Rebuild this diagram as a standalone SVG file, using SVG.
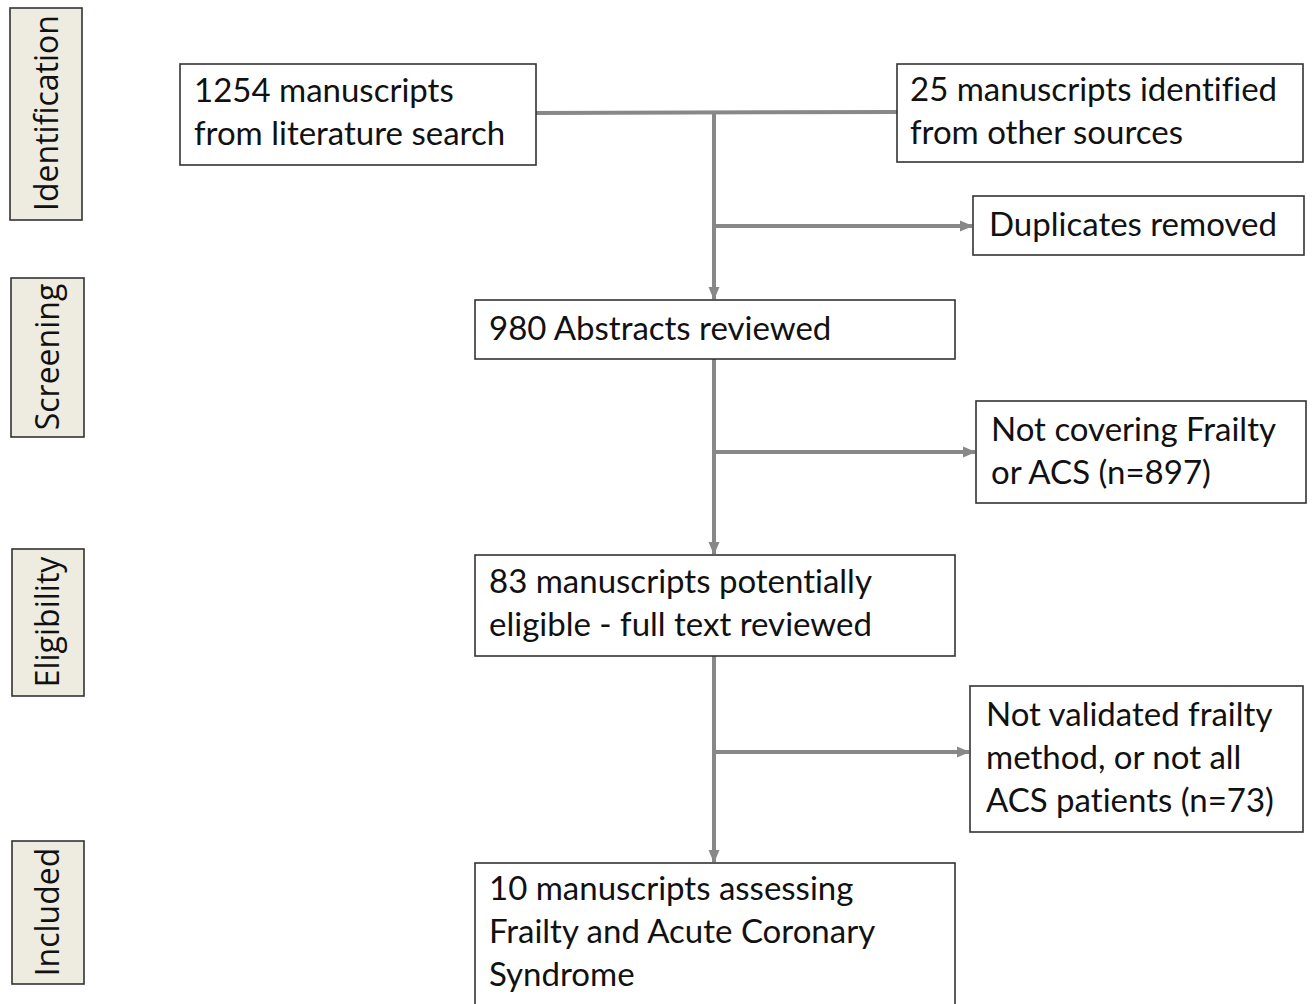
<svg xmlns="http://www.w3.org/2000/svg" width="1313" height="1004" viewBox="0 0 1313 1004">
<style>
.box{fill:#fff;stroke:#333;stroke-width:1.6}
.stage{fill:#EEECE1;stroke:#333;stroke-width:1.6}
.t{font-family:Lato,"Open Sans","Liberation Sans",sans-serif;font-size:33px;fill:#111;font-variant-ligatures:none}
.st{font-family:"Open Sans","Liberation Sans",sans-serif;font-size:32px;fill:#111;text-anchor:middle}
.c{fill:none;stroke:#888;stroke-width:4}
</style>
<defs>
<marker id="ah" markerUnits="userSpaceOnUse" markerWidth="14" markerHeight="14" viewBox="0 0 14 14" refX="12" refY="7" orient="auto">
<path d="M0,1.5 L13,7 L0,12.5 Z" fill="#888"/>
</marker>
</defs>
<rect width="1313" height="1004" fill="#fff"/>
<g id="stages">
<g id="stage-identification"><rect class="stage" x="10" y="8" width="72" height="212"/><text class="st" transform="translate(58,113) rotate(-90)">Identification</text></g>
<g id="stage-screening"><rect class="stage" x="11" y="278" width="73" height="159"/><text class="st" transform="translate(59,357) rotate(-90)">Screening</text></g>
<g id="stage-eligibility"><rect class="stage" x="12" y="549" width="72" height="147"/><text class="st" transform="translate(59,622) rotate(-90)">Eligibility</text></g>
<g id="stage-included"><rect class="stage" x="12" y="841" width="72" height="143"/><text class="st" transform="translate(59,912) rotate(-90)">Included</text></g>
</g>
<g id="connectors">
<line class="c" x1="536" y1="113" x2="897" y2="112"/>
<line class="c" x1="714" y1="113" x2="714" y2="299" marker-end="url(#ah)"/>
<line class="c" x1="714" y1="226" x2="972" y2="226" marker-end="url(#ah)"/>
<line class="c" x1="714" y1="359" x2="714" y2="554" marker-end="url(#ah)"/>
<line class="c" x1="714" y1="452" x2="975" y2="452" marker-end="url(#ah)"/>
<line class="c" x1="714" y1="656" x2="714" y2="862" marker-end="url(#ah)"/>
<line class="c" x1="714" y1="752" x2="969" y2="752" marker-end="url(#ah)"/>
</g>
<g id="n1254"><rect class="box" x="180" y="64" width="356" height="101"/><text class="t" x="194" y="102">1254 manuscripts</text><text class="t" x="194" y="145">from literature search</text></g>
<g id="n25"><rect class="box" x="897" y="64" width="406" height="98"/><text class="t" x="910" y="101">25 manuscripts identified</text><text class="t" x="910" y="144">from other sources</text></g>
<g id="ndup"><rect class="box" x="973" y="196" width="331" height="59"/><text class="t" x="989" y="236">Duplicates removed</text></g>
<g id="n980"><rect class="box" x="475" y="300" width="480" height="59"/><text class="t" x="489" y="340">980 Abstracts reviewed</text></g>
<g id="nnotcov"><rect class="box" x="976" y="401" width="330" height="102"/><text class="t" x="991" y="441">Not covering Frailty</text><text class="t" x="991" y="484">or ACS (n=897)</text></g>
<g id="n83"><rect class="box" x="475" y="555" width="480" height="101"/><text class="t" x="489" y="593">83 manuscripts  potentially</text><text class="t" x="489" y="636">eligible - full text reviewed</text></g>
<g id="nnotval"><rect class="box" x="970" y="686" width="333" height="146"/><text class="t" x="986" y="726">Not validated frailty</text><text class="t" x="986" y="769">method, or not all</text><text class="t" x="986" y="812">ACS patients (n=73)</text></g>
<g id="n10"><rect class="box" x="475" y="863" width="480" height="145"/><text class="t" x="489" y="900">10 manuscripts assessing</text><text class="t" x="489" y="943">Frailty and Acute Coronary</text><text class="t" x="489" y="986">Syndrome</text></g>
</svg>
